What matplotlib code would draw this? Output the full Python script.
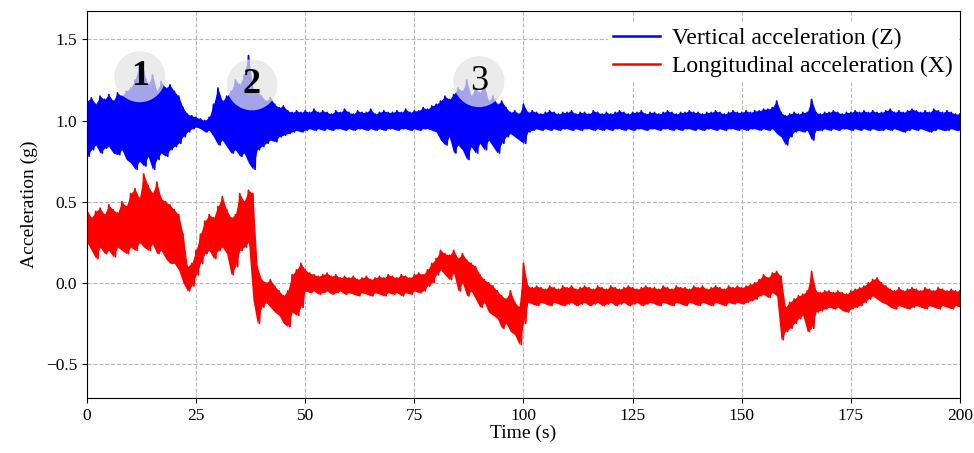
import numpy as np
import matplotlib.pyplot as plt

plt.rcParams['font.family'] = ['Liberation Serif', 'DejaVu Serif']

# upper / lower envelope of each signal, one pair per second (t = 0..200 s)
z_hi = [1.12, 1.14, 1.10, 1.15, 1.13, 1.16, 1.12, 1.17, 1.15, 1.18,
        1.20, 1.25, 1.35, 1.30, 1.22, 1.28, 1.18, 1.24, 1.20, 1.22,
        1.18, 1.15, 1.08, 1.04, 1.03, 1.02, 1.01, 1.00, 1.02, 1.10,
        1.20, 1.12, 1.15, 1.18, 1.25, 1.22, 1.28, 1.40, 1.20, 1.18,
        1.15, 1.12, 1.14, 1.10, 1.08, 1.09, 1.06, 1.05, 1.06, 1.05,
        1.06, 1.05, 1.07, 1.05, 1.06, 1.05, 1.04, 1.06, 1.05, 1.07,
        1.05, 1.04, 1.06, 1.05, 1.05, 1.07, 1.04, 1.05, 1.06, 1.05,
        1.05, 1.06, 1.05, 1.07, 1.05, 1.06, 1.06, 1.08, 1.07, 1.09,
        1.10, 1.12, 1.15, 1.13, 1.16, 1.20, 1.18, 1.25, 1.15, 1.20,
        1.17, 1.22, 1.12, 1.15, 1.10, 1.12, 1.08, 1.05, 1.06, 1.04,
        1.10, 1.05, 1.06, 1.05, 1.04, 1.05, 1.06, 1.05, 1.04, 1.05,
        1.05, 1.06, 1.04, 1.05, 1.05, 1.04, 1.06, 1.05, 1.04, 1.05,
        1.04, 1.05, 1.06, 1.05, 1.04, 1.05, 1.05, 1.06, 1.04, 1.05,
        1.05, 1.04, 1.05, 1.06, 1.05, 1.04, 1.05, 1.05, 1.06, 1.05,
        1.05, 1.04, 1.05, 1.05, 1.06, 1.05, 1.04, 1.05, 1.06, 1.05,
        1.05, 1.06, 1.05, 1.06, 1.06, 1.07, 1.07, 1.08, 1.12, 1.05,
        1.03, 1.04, 1.05, 1.04, 1.05, 1.05, 1.13, 1.05, 1.04, 1.05,
        1.05, 1.06, 1.05, 1.04, 1.05, 1.05, 1.06, 1.05, 1.06, 1.05,
        1.06, 1.05, 1.05, 1.06, 1.07, 1.05, 1.06, 1.05, 1.06, 1.07,
        1.06, 1.05, 1.06, 1.05, 1.07, 1.06, 1.05, 1.06, 1.05, 1.04,
        1.04]
z_lo = [0.78, 0.82, 0.85, 0.80, 0.83, 0.84, 0.80, 0.79, 0.82, 0.76,
        0.74, 0.70, 0.75, 0.72, 0.78, 0.70, 0.76, 0.80, 0.78, 0.82,
        0.84, 0.86, 0.90, 0.93, 0.95, 0.96, 0.95, 0.93, 0.94, 0.90,
        0.85, 0.88, 0.84, 0.80, 0.82, 0.78, 0.80, 0.74, 0.70, 0.82,
        0.84, 0.86, 0.88, 0.87, 0.90, 0.91, 0.92, 0.93, 0.94, 0.93,
        0.94, 0.95, 0.94, 0.95, 0.94, 0.95, 0.94, 0.95, 0.95, 0.94,
        0.95, 0.94, 0.95, 0.95, 0.94, 0.95, 0.94, 0.95, 0.94, 0.95,
        0.95, 0.94, 0.95, 0.95, 0.94, 0.95, 0.94, 0.95, 0.95, 0.94,
        0.93, 0.88, 0.85, 0.90, 0.80, 0.85, 0.82, 0.76, 0.84, 0.80,
        0.86, 0.82, 0.88, 0.84, 0.80, 0.86, 0.90, 0.92, 0.90, 0.88,
        0.86, 0.93, 0.94, 0.95, 0.94, 0.95, 0.94, 0.95, 0.94, 0.95,
        0.95, 0.94, 0.95, 0.94, 0.95, 0.95, 0.94, 0.95, 0.94, 0.95,
        0.94, 0.95, 0.95, 0.94, 0.95, 0.94, 0.95, 0.95, 0.94, 0.95,
        0.95, 0.94, 0.95, 0.95, 0.94, 0.95, 0.94, 0.95, 0.95, 0.94,
        0.95, 0.94, 0.95, 0.95, 0.94, 0.95, 0.94, 0.95, 0.95, 0.94,
        0.95, 0.94, 0.95, 0.95, 0.94, 0.95, 0.94, 0.95, 0.92, 0.90,
        0.85, 0.90, 0.93, 0.94, 0.93, 0.94, 0.88, 0.94, 0.94, 0.95,
        0.94, 0.95, 0.94, 0.95, 0.95, 0.94, 0.95, 0.94, 0.95, 0.94,
        0.95, 0.94, 0.94, 0.95, 0.94, 0.95, 0.94, 0.93, 0.94, 0.95,
        0.94, 0.95, 0.94, 0.93, 0.94, 0.95, 0.94, 0.94, 0.95, 0.94,
        0.94]
x_hi = [0.45, 0.40, 0.44, 0.46, 0.42, 0.48, 0.45, 0.43, 0.50, 0.47,
        0.55, 0.58, 0.52, 0.67, 0.60, 0.55, 0.62, 0.52, 0.50, 0.48,
        0.45, 0.42, 0.30, 0.10, 0.12, 0.20, 0.30, 0.38, 0.42, 0.40,
        0.47, 0.53, 0.45, 0.40, 0.42, 0.55, 0.50, 0.57, 0.55, 0.10,
        0.02, 0.00, 0.02, -0.02, -0.05, -0.08, -0.05, 0.05, 0.08, 0.12,
        0.08, 0.06, 0.05, 0.04, 0.05, 0.06, 0.04, 0.05, 0.03, 0.04,
        0.03, 0.04, 0.02, 0.03, 0.04, 0.02, 0.03, 0.04, 0.03, 0.05,
        0.04, 0.03, 0.05, 0.04, 0.03, 0.05, 0.06, 0.05, 0.08, 0.12,
        0.15, 0.20, 0.18, 0.17, 0.20, 0.15, 0.18, 0.14, 0.12, 0.10,
        0.05, 0.02, 0.00, -0.02, -0.05, -0.08, -0.10, -0.05, -0.12, -0.15,
        0.12, -0.02, -0.03, -0.02, -0.03, -0.04, -0.02, -0.03, -0.04, -0.02,
        -0.03, -0.02, -0.04, -0.03, -0.02, -0.03, -0.04, -0.02, -0.03, -0.04,
        -0.02, -0.03, -0.04, -0.03, -0.02, -0.03, -0.04, -0.03, -0.02, -0.03,
        -0.03, -0.04, -0.02, -0.03, -0.04, -0.02, -0.03, -0.03, -0.04, -0.02,
        -0.03, -0.02, -0.04, -0.03, -0.02, -0.03, -0.04, -0.02, -0.03, -0.02,
        -0.03, -0.02, -0.01, 0.00, 0.02, 0.05, 0.03, 0.06, 0.07, 0.04,
        -0.15, -0.12, -0.10, -0.08, -0.07, -0.05, 0.07, -0.05, -0.06, -0.05,
        -0.05, -0.06, -0.05, -0.06, -0.07, -0.05, -0.04, -0.03, -0.02, 0.00,
        0.02, 0.03, 0.00, -0.02, -0.04, -0.05, -0.03, -0.05, -0.04, -0.03,
        -0.04, -0.05, -0.03, -0.04, -0.05, -0.03, -0.04, -0.05, -0.04, -0.05,
        -0.05]
x_lo = [0.25, 0.20, 0.15, 0.22, 0.18, 0.20, 0.16, 0.22, 0.20, 0.18,
        0.22, 0.20, 0.25, 0.22, 0.20, 0.24, 0.18, 0.20, 0.15, 0.12,
        0.12, 0.08, 0.00, -0.05, -0.02, 0.05, 0.12, 0.18, 0.20, 0.15,
        0.20, 0.22, 0.18, 0.05, 0.10, 0.20, 0.22, 0.25, -0.10, -0.25,
        -0.15, -0.12, -0.15, -0.18, -0.20, -0.25, -0.27, -0.18, -0.20, -0.15,
        -0.05, -0.06, -0.05, -0.07, -0.06, -0.05, -0.07, -0.06, -0.05, -0.07,
        -0.06, -0.07, -0.08, -0.06, -0.07, -0.08, -0.06, -0.07, -0.08, -0.06,
        -0.07, -0.06, -0.08, -0.06, -0.07, -0.05, -0.06, -0.05, -0.02, 0.00,
        0.05, 0.08, 0.05, 0.02, 0.06, -0.05, 0.00, -0.08, -0.05, -0.10,
        -0.15, -0.12, -0.18, -0.20, -0.22, -0.28, -0.25, -0.30, -0.32, -0.38,
        -0.25, -0.12, -0.13, -0.14, -0.12, -0.13, -0.14, -0.12, -0.13, -0.14,
        -0.13, -0.12, -0.14, -0.13, -0.12, -0.14, -0.13, -0.12, -0.14, -0.13,
        -0.12, -0.14, -0.13, -0.12, -0.14, -0.13, -0.12, -0.14, -0.13, -0.12,
        -0.13, -0.14, -0.12, -0.13, -0.14, -0.12, -0.13, -0.14, -0.12, -0.13,
        -0.14, -0.12, -0.13, -0.14, -0.12, -0.13, -0.14, -0.12, -0.13, -0.12,
        -0.13, -0.12, -0.11, -0.10, -0.08, -0.07, -0.09, -0.06, -0.08, -0.35,
        -0.30, -0.28, -0.25, -0.22, -0.20, -0.30, -0.28, -0.18, -0.17, -0.16,
        -0.15, -0.16, -0.15, -0.17, -0.18, -0.16, -0.15, -0.14, -0.12, -0.10,
        -0.08, -0.10, -0.12, -0.13, -0.15, -0.16, -0.14, -0.15, -0.16, -0.15,
        -0.14, -0.15, -0.16, -0.14, -0.15, -0.16, -0.14, -0.15, -0.16, -0.14,
        -0.15]

# marked events
event_labels = ['1', '2', '3']
event_t = [12.1, 37.8, 89.8]
event_y = [1.27, 1.22, 1.24]
event_weight = ['bold', 'bold', 'normal']

t = np.arange(len(z_hi), dtype=float)


def zigzag(hi, lo):
    # alternate between upper and lower envelope -> noisy-looking trace
    tt = np.empty(2 * len(t) - 1)
    yy = np.empty(2 * len(t) - 1)
    tt[0::2] = t
    tt[1::2] = t[:-1] + 0.5
    yy[0::2] = hi
    yy[1::2] = np.asarray(lo)[:-1]
    return tt, yy


fig = plt.figure(figsize=(9.74, 4.53), dpi=100)
ax = fig.add_axes([0.0893, 0.1214, 0.8963, 0.8543])
ax.set_axisbelow(True)

for hi, lo, col, lab in [(z_hi, z_lo, 'blue', 'Vertical acceleration (Z)'),
                         (x_hi, x_lo, 'red', 'Longitudinal acceleration (X)')]:
    ax.fill_between(t, lo, hi, color=col, lw=0)
    tt, yy = zigzag(hi, lo)
    ax.plot(tt, yy, color=col, lw=1.3, label=lab)

ax.scatter(event_t, event_y, s=1350, color='#e4e4e4', alpha=0.72,
           edgecolors='none', zorder=3)
for lab, et, ey, w in zip(event_labels, event_t, event_y, event_weight):
    ax.text(et, ey, lab, ha='center', va='center', fontsize=26,
            fontweight=w, zorder=4)

ax.set_xlim(0, 200)
ax.set_ylim(-0.71, 1.675)
ax.set_xticks(np.arange(0, 201, 25))
ax.set_yticks([-0.5, 0.0, 0.5, 1.0, 1.5])
ax.tick_params(labelsize=12.5)
ax.grid(True, ls='--', color='#b8b8b8', lw=0.8)
ax.set_xlabel('Time (s)', fontsize=14, labelpad=1)
ax.set_ylabel('Acceleration (g)', fontsize=14, labelpad=6)

leg = ax.legend(loc='upper right', bbox_to_anchor=(1.0, 0.975), fontsize=17,
                frameon=True, framealpha=1, edgecolor='none',
                borderaxespad=0.1, handlelength=2.0, handletextpad=0.5,
                labelspacing=0.28, borderpad=0.2)
for h in leg.get_lines():
    h.set_linewidth(1.8)

fig.savefig('out.png', dpi=100)
